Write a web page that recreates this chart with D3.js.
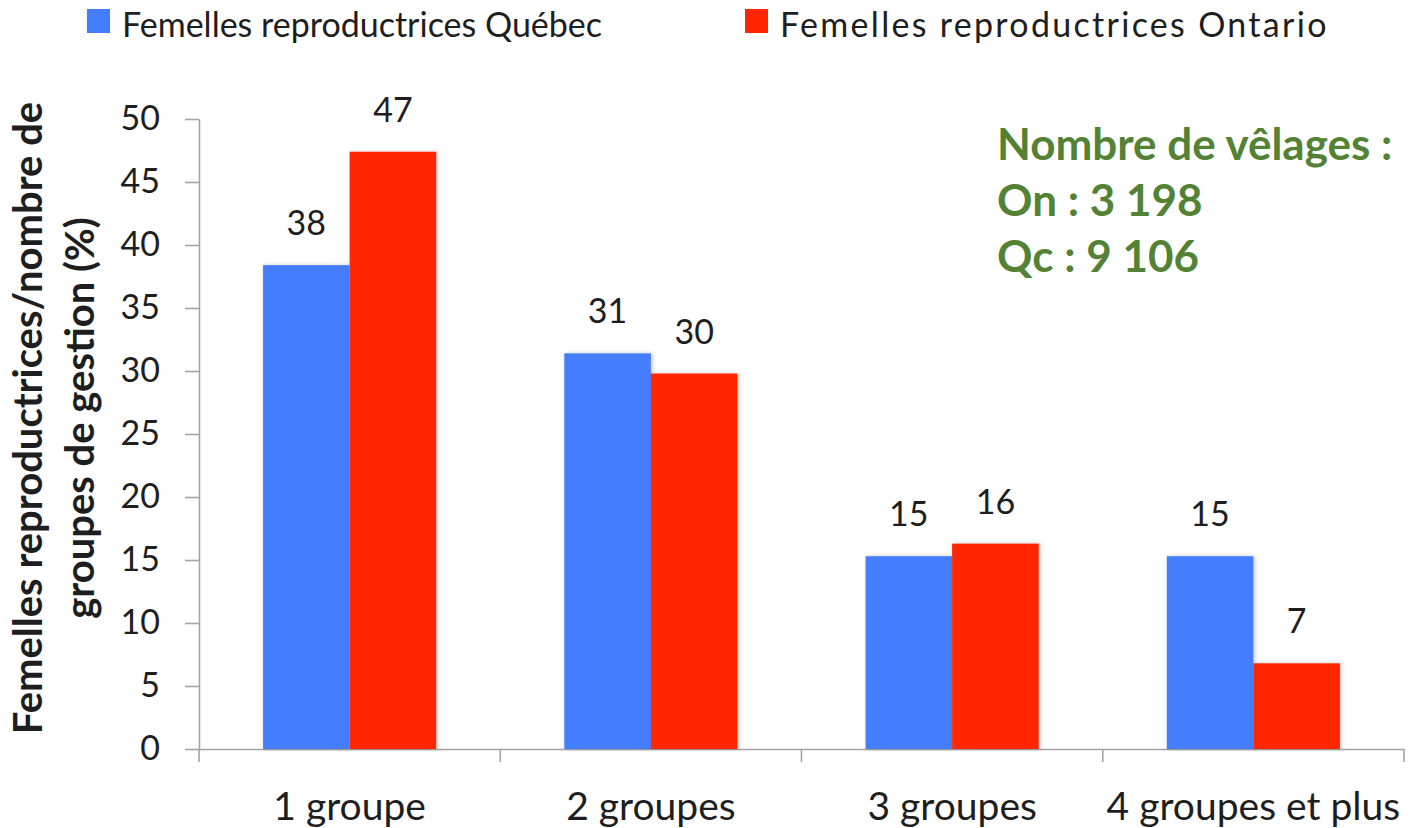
<!DOCTYPE html>
<html lang="fr">
<head>
  <meta charset="UTF-8">
  <title>Femelles reproductrices par groupes de gestion</title>
  <script src="https://d3js.org/d3.v7.min.js"></script>
  <style>
    body { margin: 0; background: #fff; }
    text { font-family: Lato, Carlito, "Open Sans", sans-serif; fill: #1e1e1e; }
  </style>
</head>
<body>
<div id="chart"></div>
<script>
// data
const categories = ["1 groupe", "2 groupes", "3 groupes", "4 groupes et plus"];
const seriesNames = ["Femelles reproductrices Québec", "Femelles reproductrices Ontario"];
const quebec = [38.4, 31.4, 15.3, 15.3];
const ontario = [47.4, 29.8, 16.3, 6.8];
const yTicks = [0, 5, 10, 15, 20, 25, 30, 35, 40, 45, 50];
const noteLines = ["Nombre de vêlages :", "On : 3 198", "Qc : 9 106"];

const colors = ["#447dff", "#ff2600"];
const width = 1410, height = 828;

const svg = d3.select("#chart").append("svg")
  .attr("width", width)
  .attr("height", height);

// soft shadow like the office chart
const defs = svg.append("defs");
defs.append("filter").attr("id", "shadow")
  .attr("x", "-10%").attr("y", "-10%").attr("width", "130%").attr("height", "120%")
  .append("feDropShadow")
  .attr("dx", 1.5).attr("dy", 0).attr("stdDeviation", 2)
  .attr("flood-color", "#000").attr("flood-opacity", 0.22);

const x0 = d3.scaleBand().domain(categories).range([199, 1404]).padding(0);
const x1 = d3.scaleBand().domain(seriesNames).range([0, x0.bandwidth()])
  .paddingInner(0).paddingOuter(0.74);
const y = d3.scaleLinear().domain([0, 50]).range([749, 119]);

const axisColor = "#a3a3a3";

// y axis
const yAxis = svg.append("g")
  .attr("transform", "translate(199,0)")
  .call(d3.axisLeft(y).tickValues(yTicks).tickSizeInner(14).tickSizeOuter(0).tickPadding(25));
yAxis.selectAll("path, line").attr("stroke", axisColor).attr("stroke-width", 1.6);
yAxis.selectAll("text").attr("font-size", 34).attr("fill", "#1e1e1e");

// x axis: line + ticks at category boundaries
const xAxis = svg.append("g")
  .attr("transform", "translate(0,749)")
  .call(d3.axisBottom(x0).tickSize(0).tickSizeOuter(0));
xAxis.select(".domain").attr("stroke", axisColor).attr("stroke-width", 1.6);
xAxis.selectAll("text").attr("font-size", 39).attr("y", 71).attr("dy", 0).attr("fill", "#1e1e1e");

const bounds = categories.map(c => x0(c)).concat([x0.range()[1]]);
svg.append("g").selectAll("line").data(bounds).join("line")
  .attr("x1", d => d).attr("x2", d => d)
  .attr("y1", 749).attr("y2", 762)
  .attr("stroke", axisColor).attr("stroke-width", 1.6);

// bars
const rows = categories.map((c, i) => ({
  cat: c,
  values: [
    { s: seriesNames[0], v: quebec[i], color: colors[0] },
    { s: seriesNames[1], v: ontario[i], color: colors[1] }
  ]
}));

const groups = svg.append("g").selectAll("g").data(rows).join("g")
  .attr("transform", d => `translate(${x0(d.cat)},0)`);

groups.selectAll("rect").data(d => d.values).join("rect")
  .attr("x", d => x1(d.s))
  .attr("y", d => y(d.v))
  .attr("width", x1.bandwidth())
  .attr("height", d => y(0) - y(d.v))
  .attr("fill", d => d.color)
  .attr("filter", "url(#shadow)");

groups.selectAll("text.val").data(d => d.values).join("text")
  .attr("class", "val")
  .attr("x", d => x1(d.s) + x1.bandwidth() / 2)
  .attr("y", d => y(d.v) - 30)
  .attr("text-anchor", "middle")
  .attr("font-size", 34)
  .text(d => d3.format(".0f")(d.v));

// y title, two lines, rotated
const yTitle = svg.append("text")
  .attr("transform", "translate(0,418) rotate(-90)")
  .attr("text-anchor", "middle")
  .attr("font-weight", "bold")
  .attr("font-size", 40);
yTitle.append("tspan").attr("x", 0).attr("y", 42).text("Femelles reproductrices/nombre de");
yTitle.append("tspan").attr("x", 0).attr("y", 94).text("groupes de gestion (%)");

// legend (the Ontario entry is set a little wider in the original)
const legendX = [87, 745];
const legendSpacing = [0, 2.3];
const legend = svg.append("g").selectAll("g").data(seriesNames).join("g")
  .attr("transform", (d, i) => `translate(${legendX[i]},9)`);
legend.append("rect")
  .attr("width", 23).attr("height", 24)
  .attr("fill", (d, i) => colors[i]);
legend.append("text")
  .attr("x", 35).attr("y", 28)
  .attr("font-size", 34)
  .attr("letter-spacing", (d, i) => legendSpacing[i])
  .text(d => d);

// note
svg.append("g").selectAll("text").data(noteLines).join("text")
  .attr("x", 997)
  .attr("y", (d, i) => 160 + i * 56)
  .attr("font-size", 44)
  .attr("font-weight", "bold")
  .style("fill", "#548235")
  .text(d => d);
</script>
</body>
</html>
